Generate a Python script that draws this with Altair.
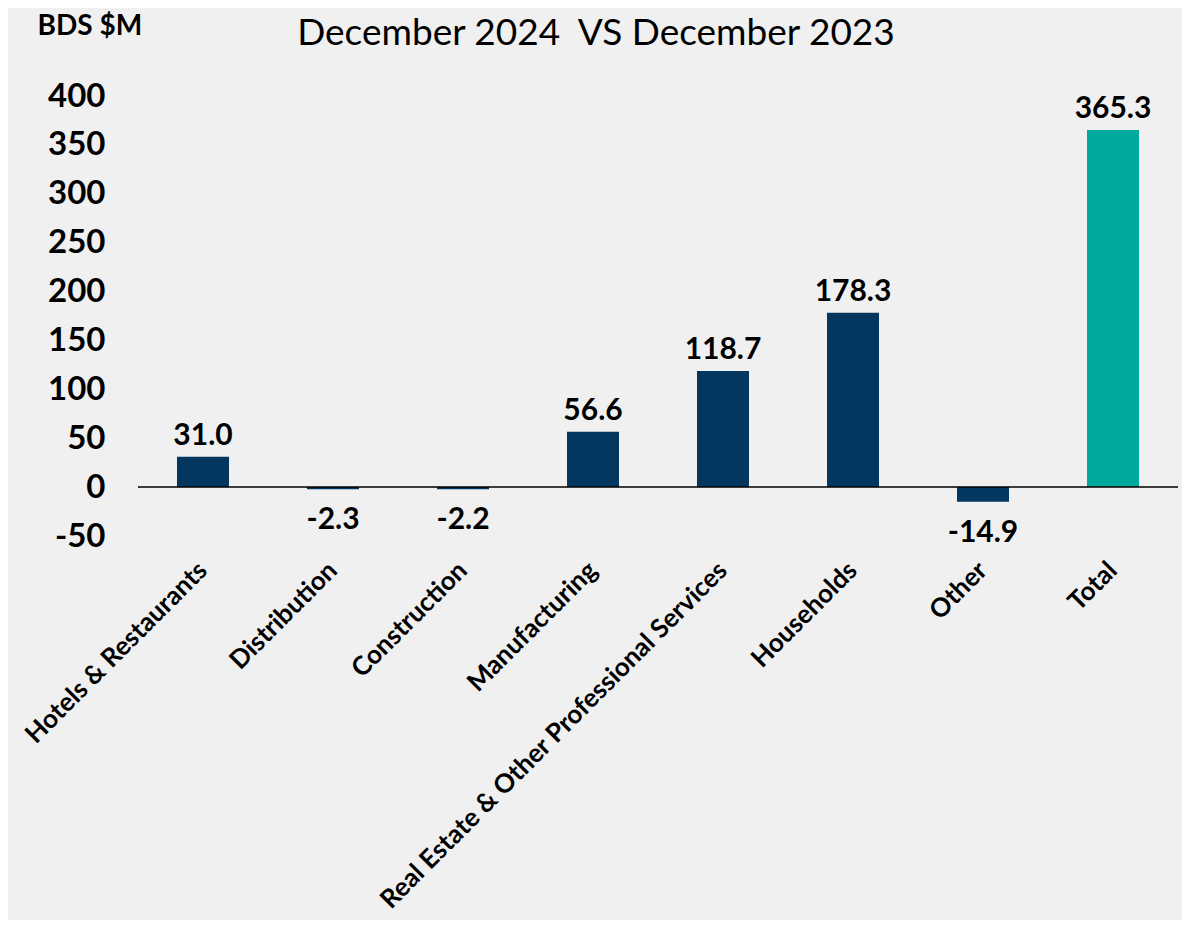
import altair as alt
import pandas as pd

categories = [
    "Hotels & Restaurants",
    "Distribution",
    "Construction",
    "Manufacturing",
    "Real Estate & Other Professional Services",
    "Households",
    "Other",
    "Total",
]
values = [31.0, -2.3, -2.2, 56.6, 118.7, 178.3, -14.9, 365.3]
y_ticks = [-50, 0, 50, 100, 150, 200, 250, 300, 350, 400]
title_text = "December 2024\u00a0 VS December 2023"
unit_text = "BDS $M"

df = pd.DataFrame({"category": categories, "value": values})
df["label"] = [f"{v:.1f}" for v in values]

FONT = "Lato"
NAVY = "#03375f"
TEAL = "#00a99e"
BG = "#f0f0f0"

x_enc = alt.X(
    "category:N",
    sort=categories,
    scale=alt.Scale(paddingInner=0.6, paddingOuter=0.3),
    axis=alt.Axis(
        title=None,
        labelAngle=315,
        labelAlign="right",
        labelBaseline="middle",
        labelFontSize=26,
        labelFontWeight="bold",
        labelFont=FONT,
        labelColor="black",
        labelPadding=30,
        labelLimit=0,
        ticks=False,
        domain=False,
    ),
)
y_enc = alt.Y(
    "value:Q",
    scale=alt.Scale(domain=[-50, 400], nice=False, zero=False),
    axis=alt.Axis(
        values=y_ticks,
        labelExpr="'' + datum.value",
        title=unit_text,
        titleAngle=0,
        titleX=-101,
        titleY=-84,
        titleAlign="left",
        titleBaseline="top",
        titleFontSize=28,
        titleFontWeight="bold",
        titleFont=FONT,
        titleColor="black",
        labelFontSize=33,
        labelFontWeight="bold",
        labelFont=FONT,
        labelColor="black",
        labelPadding=33,
        ticks=False,
        domain=False,
        grid=False,
    ),
)

base = alt.Chart(df)

bars = base.mark_bar().encode(
    x=x_enc,
    y=y_enc,
    y2=alt.datum(0),
    color=alt.condition(alt.datum.category == "Total", alt.value(TEAL), alt.value(NAVY)),
)

zero_rule = alt.Chart(pd.DataFrame({"z": [0]})).mark_rule(color="black", strokeWidth=1.5).encode(
    y=alt.Y("z:Q", scale=alt.Scale(domain=[-50, 400], nice=False, zero=False))
)

pos_labels = base.transform_filter(alt.datum.value >= 0).mark_text(
    font=FONT, fontSize=30, fontWeight="bold", color="black", baseline="alphabetic", dy=-12
).encode(x=alt.X("category:N", sort=categories), y="value:Q", text="label:N")

neg_labels = base.transform_filter(alt.datum.value < 0).mark_text(
    font=FONT, fontSize=30, fontWeight="bold", color="black", baseline="top", dy=16
).encode(x=alt.X("category:N", sort=categories), y="value:Q", text="label:N")

title = alt.Chart(pd.DataFrame({"t": [title_text]})).mark_text(
    font=FONT, fontSize=37, fontWeight="normal", color="black", baseline="alphabetic", align="center"
).encode(x=alt.value(458), y=alt.value(-51), text="t:N")

chart = alt.layer(bars, zero_rule, pos_labels, neg_labels, title).properties(
    width=1040,
    height=440,
    padding={"left": 130, "top": 88, "right": 4, "bottom": 384},
    autosize=alt.AutoSizeParams(type="none"),
    background=BG,
).configure_view(stroke=None)

chart.save("out.html", embed_options={"renderer": "svg", "actions": False})
